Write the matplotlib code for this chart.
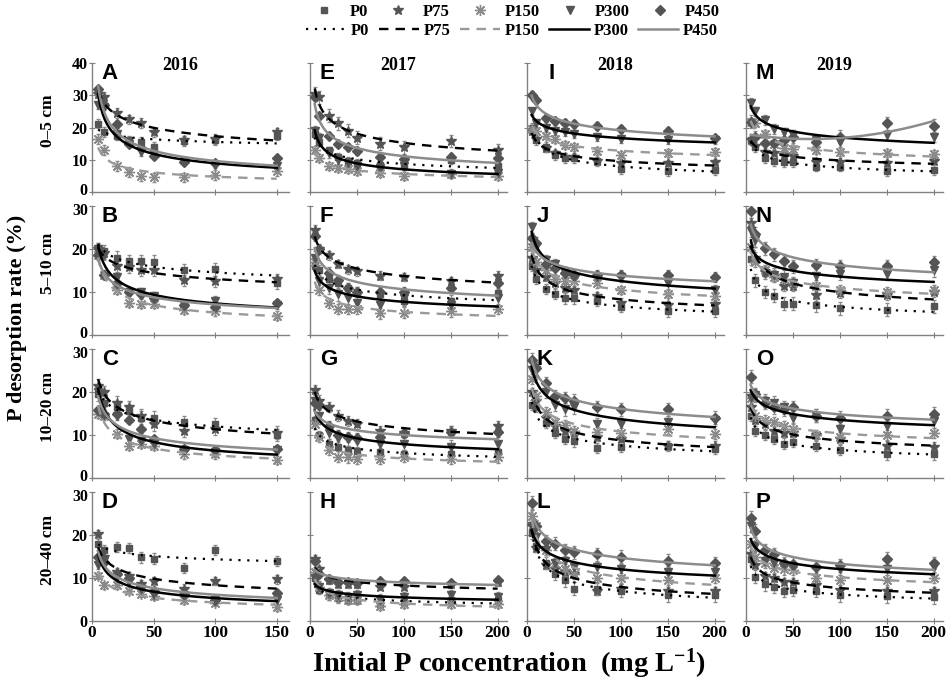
import matplotlib.pyplot as plt
import matplotlib.transforms as mtransforms
import numpy as np
from matplotlib.lines import Line2D

plt.rcParams['font.family'] = 'Liberation Serif'
plt.rcParams['font.weight'] = 'bold'
plt.rcParams['mathtext.fontset'] = 'custom'
plt.rcParams['mathtext.rm'] = 'Liberation Serif:bold'
plt.rcParams['mathtext.default'] = 'rm'

years = ['2016', '2017', '2018', '2019']
depths = ['0–5 cm', '5–10 cm', '10–20 cm', '20–40 cm']
treatments = ['P0', 'P75', 'P150', 'P300', 'P450']
conc_2016 = [5, 10, 20, 30, 40, 50, 75, 100, 150]
conc_later = [5, 10, 20, 30, 40, 50, 75, 100, 150, 200]

# desorption rate (%) per panel, rows = P0, P75, P150, P300, P450
A = [[21.2, 18.6, 17.5, 16.0, 15.5, 14.0, 15.8, 16.0, 17.5],
     [30.5, 29.5, 24.5, 22.5, 21.5, 18.5, 16.0, 16.5, 18.5],
     [16.5, 13.0, 8.0, 6.3, 5.0, 4.5, 4.5, 5.3, 6.5],
     [27.0, 26.5, 18.0, 15.0, 12.5, 11.5, 9.5, 8.5, 8.0],
     [32.0, 27.0, 21.0, 15.0, 13.5, 11.2, 9.3, 9.0, 10.5]]
B = [[20.0, 19.5, 18.0, 17.2, 17.1, 17.0, 15.0, 15.3, 12.2],
     [20.0, 19.0, 16.0, 15.8, 15.0, 15.0, 12.7, 12.5, 13.0],
     [18.5, 14.0, 10.5, 7.5, 7.3, 7.2, 5.8, 5.5, 4.5],
     [20.0, 18.5, 13.5, 10.0, 10.0, 9.0, 7.0, 8.0, 7.0],
     [18.5, 14.0, 12.0, 10.0, 9.5, 8.5, 7.0, 6.5, 7.5]]
C = [[19.5, 17.5, 16.5, 15.5, 14.0, 14.0, 13.0, 12.5, 10.0],
     [21.5, 20.0, 17.5, 16.5, 14.5, 12.5, 11.0, 11.5, 10.5],
     [15.0, 14.5, 10.3, 7.5, 8.0, 7.5, 5.5, 5.5, 4.2],
     [20.0, 17.0, 14.5, 9.0, 8.5, 8.0, 6.5, 6.0, 6.5],
     [15.8, 15.0, 15.0, 13.5, 11.3, 9.0, 6.8, 6.5, 6.8]]
D = [[17.8, 16.5, 17.2, 16.9, 14.8, 14.5, 12.3, 16.5, 14.0],
     [20.2, 15.0, 11.3, 10.5, 8.5, 9.3, 7.5, 9.3, 9.7],
     [10.5, 8.3, 8.3, 7.0, 6.3, 5.8, 4.8, 4.2, 3.2],
     [13.0, 14.0, 10.2, 9.0, 7.5, 6.0, 6.0, 4.8, 4.8],
     [14.8, 13.8, 11.0, 10.0, 8.2, 7.0, 6.3, 5.0, 6.5]]
E = [[18.0, 15.5, 12.9, 11.0, 9.5, 9.0, 8.5, 8.0, 9.8, 8.0],
     [30.5, 29.4, 23.7, 21.3, 19.0, 16.8, 15.0, 13.9, 15.8, 13.0],
     [13.0, 10.5, 8.0, 7.5, 7.0, 6.5, 6.0, 5.0, 5.5, 5.0],
     [19.0, 16.8, 12.0, 10.0, 9.0, 8.0, 7.5, 8.2, 5.7, 6.0],
     [29.4, 23.7, 17.5, 15.0, 14.0, 12.7, 10.8, 10.3, 10.8, 10.5]]
F = [[16.0, 15.0, 13.0, 12.0, 11.0, 10.0, 9.5, 8.0, 8.0, 9.8],
     [24.5, 20.0, 18.5, 16.5, 15.3, 14.8, 13.8, 13.5, 12.5, 13.8],
     [16.9, 10.4, 7.5, 6.0, 6.0, 6.0, 5.0, 5.2, 5.5, 6.0],
     [18.0, 12.5, 11.0, 9.5, 8.5, 7.5, 7.0, 8.5, 7.0, 8.5],
     [23.0, 20.0, 14.5, 12.7, 11.0, 10.0, 10.0, 10.0, 11.0, 12.0]]
G = [[13.5, 10.0, 8.0, 7.3, 6.5, 6.2, 6.0, 5.5, 5.5, 6.0],
     [20.5, 18.0, 16.5, 14.5, 13.2, 12.5, 11.0, 10.5, 11.0, 12.0],
     [12.5, 9.5, 6.5, 5.0, 4.8, 4.5, 4.5, 5.0, 4.5, 4.8],
     [17.8, 14.5, 10.5, 9.2, 9.0, 8.5, 8.0, 8.0, 7.3, 8.0],
     [17.5, 17.0, 12.0, 10.0, 9.5, 9.3, 9.5, 10.5, 10.8, 10.8]]
H = [[10.0, 7.3, 6.0, 5.3, 5.0, 5.0, 4.0, 4.5, 5.0, 5.0],
     [14.5, 12.0, 9.5, 8.5, 8.5, 8.5, 8.0, 8.0, 8.5, 9.0],
     [11.5, 8.0, 6.0, 5.5, 5.0, 5.0, 3.5, 4.0, 4.0, 4.0],
     [10.0, 8.0, 6.5, 6.0, 5.5, 6.0, 5.0, 5.5, 6.0, 5.5],
     [14.0, 11.0, 9.8, 9.0, 9.0, 8.8, 9.3, 9.2, 8.8, 9.5]]
I = [[20.0, 16.0, 14.0, 11.5, 10.5, 10.5, 9.5, 7.0, 6.5, 6.7],
     [19.0, 16.5, 13.5, 12.0, 11.0, 10.8, 9.5, 9.0, 9.0, 9.3],
     [19.5, 19.0, 17.5, 16.5, 14.5, 14.0, 12.7, 11.5, 12.0, 12.5],
     [25.0, 21.5, 20.0, 19.0, 18.5, 18.0, 17.0, 16.5, 16.0, 16.0],
     [30.0, 28.5, 23.0, 22.0, 21.5, 21.0, 20.5, 19.5, 18.9, 16.6]]
J = [[16.0, 13.0, 10.7, 9.5, 8.5, 8.5, 8.0, 6.5, 5.5, 5.5],
     [18.0, 15.0, 13.5, 12.0, 11.0, 10.5, 9.0, 7.5, 7.0, 7.2],
     [20.5, 17.0, 15.0, 13.0, 12.5, 12.5, 12.0, 10.5, 9.5, 9.0],
     [25.0, 20.5, 17.5, 16.5, 14.5, 13.5, 13.5, 13.5, 12.0, 10.5],
     [22.5, 21.5, 16.5, 15.5, 14.5, 14.0, 14.0, 14.0, 14.0, 13.5]]
K = [[17.0, 16.5, 12.8, 10.5, 9.0, 8.5, 7.0, 7.3, 7.5, 6.8],
     [20.0, 18.0, 14.0, 12.0, 11.0, 10.5, 9.5, 9.0, 7.5, 7.5],
     [23.0, 19.0, 15.3, 13.0, 12.3, 11.0, 10.7, 10.5, 11.5, 10.2],
     [25.0, 25.0, 20.0, 17.0, 16.0, 16.5, 12.5, 12.5, 13.0, 13.5],
     [27.5, 25.5, 22.0, 19.0, 18.5, 18.0, 16.5, 16.0, 16.0, 14.0]]
L = [[20.5, 17.5, 13.5, 11.0, 9.5, 7.5, 7.5, 7.0, 6.0, 6.0],
     [22.0, 17.0, 13.0, 12.0, 11.5, 11.0, 7.0, 7.5, 7.0, 7.0],
     [24.5, 22.0, 16.5, 13.5, 12.0, 11.0, 10.0, 10.0, 9.5, 10.0],
     [22.0, 19.5, 16.5, 13.5, 14.0, 12.5, 12.5, 12.0, 11.5, 11.5],
     [27.5, 22.0, 18.5, 18.0, 16.5, 16.0, 15.5, 15.0, 14.0, 13.5]]
M = [[16.0, 14.0, 10.6, 9.6, 9.2, 9.2, 7.9, 7.9, 6.6, 6.8],
     [16.0, 14.4, 12.5, 12.2, 11.5, 11.2, 9.4, 9.4, 8.9, 9.6],
     [21.8, 21.3, 17.9, 15.0, 13.5, 13.3, 13.0, 12.5, 12.0, 11.8],
     [27.7, 25.0, 22.3, 19.5, 18.5, 17.7, 16.0, 15.4, 17.7, 17.1],
     [21.8, 16.9, 15.1, 15.1, 16.0, 17.1, 15.4, 17.1, 21.3, 20.6]]
N = [[17.7, 12.7, 10.0, 9.1, 7.3, 7.3, 6.9, 6.2, 5.9, 6.7],
     [26.0, 18.0, 14.6, 13.8, 11.5, 11.5, 9.2, 9.8, 9.4, 10.0],
     [20.5, 17.0, 15.0, 13.5, 13.0, 12.0, 11.5, 10.5, 10.0, 10.5],
     [24.2, 22.0, 14.5, 14.0, 13.5, 12.0, 13.8, 14.2, 14.2, 15.0],
     [28.8, 23.5, 20.2, 18.8, 17.3, 16.0, 16.2, 16.0, 16.0, 16.9]]
O = [[14.5, 11.0, 10.0, 9.0, 8.0, 8.3, 7.5, 6.5, 5.5, 5.5],
     [16.5, 13.5, 12.5, 11.0, 10.5, 10.5, 10.0, 9.0, 7.5, 7.3],
     [18.5, 14.5, 13.5, 13.0, 12.0, 11.5, 10.0, 9.5, 10.0, 10.5],
     [18.5, 19.2, 18.0, 17.5, 16.5, 14.0, 14.5, 11.5, 12.2, 13.2],
     [23.5, 19.5, 17.5, 16.5, 16.0, 16.5, 14.5, 14.0, 14.5, 15.0]]
P = [[14.5, 10.3, 8.5, 8.0, 7.0, 7.3, 7.0, 6.0, 5.8, 5.5],
     [15.5, 13.0, 10.5, 10.0, 9.0, 9.0, 8.3, 7.3, 7.0, 7.0],
     [18.0, 15.0, 13.5, 12.3, 12.0, 11.8, 10.0, 9.5, 9.5, 10.0],
     [22.0, 17.5, 14.0, 13.5, 13.0, 12.5, 12.0, 12.0, 12.0, 12.5],
     [24.0, 21.0, 16.5, 15.5, 13.5, 13.3, 12.5, 13.0, 14.5, 13.5]]

# typical standard deviation per treatment in each panel
err_A = [1.5, 1.5, 1.5, 1.2, 1.0]
err_B = [1.5, 1.3, 1.0, 1.0, 0.8]
err_C = [1.5, 1.5, 1.0, 1.0, 0.8]
err_D = [1.2, 1.0, 0.8, 0.8, 0.8]
err_E = [1.2, 2.0, 1.2, 1.5, 1.2]
err_F = [1.2, 1.0, 1.2, 1.5, 1.2]
err_G = [1.0, 1.2, 1.2, 1.5, 1.2]
err_H = [1.0, 0.8, 1.0, 1.2, 0.8]
err_I = [1.5, 1.0, 1.2, 1.2, 1.2]
err_J = [1.2, 1.0, 1.0, 1.2, 1.2]
err_K = [1.2, 1.0, 1.2, 1.5, 1.5]
err_L = [1.5, 1.0, 1.2, 1.2, 1.5]
err_M = [1.5, 1.0, 1.2, 1.5, 2.0]
err_N = [1.5, 1.2, 1.2, 1.5, 1.5]
err_O = [1.2, 1.0, 1.2, 1.5, 1.5]
err_P = [1.5, 1.0, 1.2, 1.2, 1.5]

panels = [['A', 'B', 'C', 'D'], ['E', 'F', 'G', 'H'],
          ['I', 'J', 'K', 'L'], ['M', 'N', 'O', 'P']]
panel_data = {'A': A, 'B': B, 'C': C, 'D': D, 'E': E, 'F': F, 'G': G, 'H': H,
              'I': I, 'J': J, 'K': K, 'L': L, 'M': M, 'N': N, 'O': O, 'P': P}
panel_err = {'A': err_A, 'B': err_B, 'C': err_C, 'D': err_D, 'E': err_E,
             'F': err_F, 'G': err_G, 'H': err_H, 'I': err_I, 'J': err_J,
             'K': err_K, 'L': err_L, 'M': err_M, 'N': err_N, 'O': err_O,
             'P': err_P}
# this one looks like a 2nd order polynomial trend in the original
quad_fits = {('M', 'P450')}

dark = '#555555'
light = '#8a8a8a'
marker_styles = {'P0': dict(marker='s', color=dark, ms=5),
                 'P75': dict(marker='*', color=dark, ms=7),
                 'P150': dict(marker=(8, 2, 0), color=light, ms=8),
                 'P300': dict(marker='v', color=dark, ms=6),
                 'P450': dict(marker='D', color=dark, ms=5)}
line_styles = {'P0': dict(ls=(0, (1, 3)), color='black', lw=1.6),
               'P75': dict(ls=(0, (4, 3)), color='black', lw=1.7),
               'P150': dict(ls=(0, (4, 3)), color='#9a9a9a', lw=1.7),
               'P300': dict(ls='-', color='black', lw=1.8),
               'P450': dict(ls='-', color='#8c8c8c', lw=1.8)}

W, Hpx = 948, 684
fig = plt.figure(figsize=(W / 100, Hpx / 100), dpi=100)

col_left = [92, 310, 527, 746]
row_bottom = [192, 335, 478, 621]
ax_w, ax_h = 197, 129
letter_x = {'I': 0.11}

for c in range(4):
    xs = conc_2016 if c == 0 else conc_later
    for r in range(4):
        letter = panels[c][r]
        ax = fig.add_axes([col_left[c] / W, 1 - row_bottom[r] / Hpx, ax_w / W, ax_h / Hpx])
        data = panel_data[letter]
        errs = panel_err[letter]
        for k, t in enumerate(treatments):
            y = np.array(data[k])
            x = np.array(xs)
            ax.errorbar(x, y, yerr=errs[k], fmt='none', ecolor='#8a8a8a',
                        elinewidth=0.8, capsize=1.5, zorder=2)
            ax.plot(x, y, ls='none', zorder=3, **marker_styles[t])
            xf = np.linspace(x.min(), x.max(), 200)
            if (letter, t) in quad_fits:
                coef = np.polyfit(x, y, 2)
                yf = np.polyval(coef, xf)
            else:
                coef = np.polyfit(np.log(x), np.log(y), 1)
                yf = np.exp(np.polyval(coef, np.log(xf)))
            ax.plot(xf, yf, zorder=4, **line_styles[t])

        ymax = 40 if r == 0 else 30
        ax.set_ylim(0, ymax)
        ax.set_yticks(np.arange(0, ymax + 1, 10))
        if c == 0:
            ax.set_xlim(0, 160)
            ax.set_xticks([0, 50, 100, 150])
        else:
            ax.set_xlim(0, 210)
            ax.set_xticks([0, 50, 100, 150, 200])
        for s in ['top', 'right']:
            ax.spines[s].set_visible(False)
        for s in ['left', 'bottom']:
            ax.spines[s].set_color('#808080')
            ax.spines[s].set_linewidth(1.0)
        ax.tick_params(direction='inout', length=4, width=0.8, color='#808080',
                       labelsize=12.5, pad=1)
        ax.tick_params(axis='y', labelsize=11.5)
        if c != 0:
            ax.set_yticklabels([])
        if r != 3:
            ax.set_xticklabels([])
        for lab in ax.get_xticklabels() + ax.get_yticklabels():
            lab.set_fontweight('bold')
        if c == 0:
            # nudge the stacked "0" / top labels apart so they do not touch
            ylabs = ax.get_yticklabels()
            if r != 3:
                ylabs[0].set_transform(ylabs[0].get_transform() +
                                       mtransforms.ScaledTranslation(0, 3 / 100, fig.dpi_scale_trans))
            if r != 0:
                ylabs[-1].set_transform(ylabs[-1].get_transform() +
                                        mtransforms.ScaledTranslation(0, -3 / 100, fig.dpi_scale_trans))

        ax.text(letter_x.get(letter, 0.05), 1.0, letter, transform=ax.transAxes,
                fontsize=16, fontweight='bold', family='Liberation Sans',
                va='top', ha='left')
        if r == 0:
            ax.text(0.45, 1.05, years[c], transform=ax.transAxes, fontsize=13,
                    fontweight='bold', ha='center', va='top')

for r in range(4):
    yc = row_bottom[r] - ax_h / 2 - 7
    fig.text(48 / W, 1 - yc / Hpx, depths[r], rotation=90, fontsize=12.5,
             fontweight='bold', ha='center', va='center')

fig.text(17 / W, 1 - 318 / Hpx, 'P desorption rate (%)', rotation=90,
         fontsize=16, fontweight='bold', ha='center', va='center')
fig.text(509 / W, 1 - 664 / Hpx, 'Initial P concentration  (mg L$^{-1}$)',
         fontsize=20.5, fontweight='bold', ha='center', va='center')

marker_handles = [Line2D([], [], ls='none', **marker_styles[t]) for t in treatments]
line_handles = [Line2D([], [], **line_styles[t]) for t in treatments]
fig.legend(marker_handles, treatments, loc='center', ncol=5, frameon=False,
           bbox_to_anchor=(518 / W, 1 - 12 / Hpx), handlelength=1.0,
           columnspacing=1.3, handletextpad=1.0, borderpad=0.1,
           prop={'size': 12, 'weight': 'bold'})
fig.legend(line_handles, treatments, loc='center', ncol=5, frameon=False,
           bbox_to_anchor=(512 / W, 1 - 31 / Hpx), handlelength=2.4,
           columnspacing=0.55, handletextpad=0.3, borderpad=0.1,
           prop={'size': 12, 'weight': 'bold'})

fig.savefig('out.png', dpi=100)
